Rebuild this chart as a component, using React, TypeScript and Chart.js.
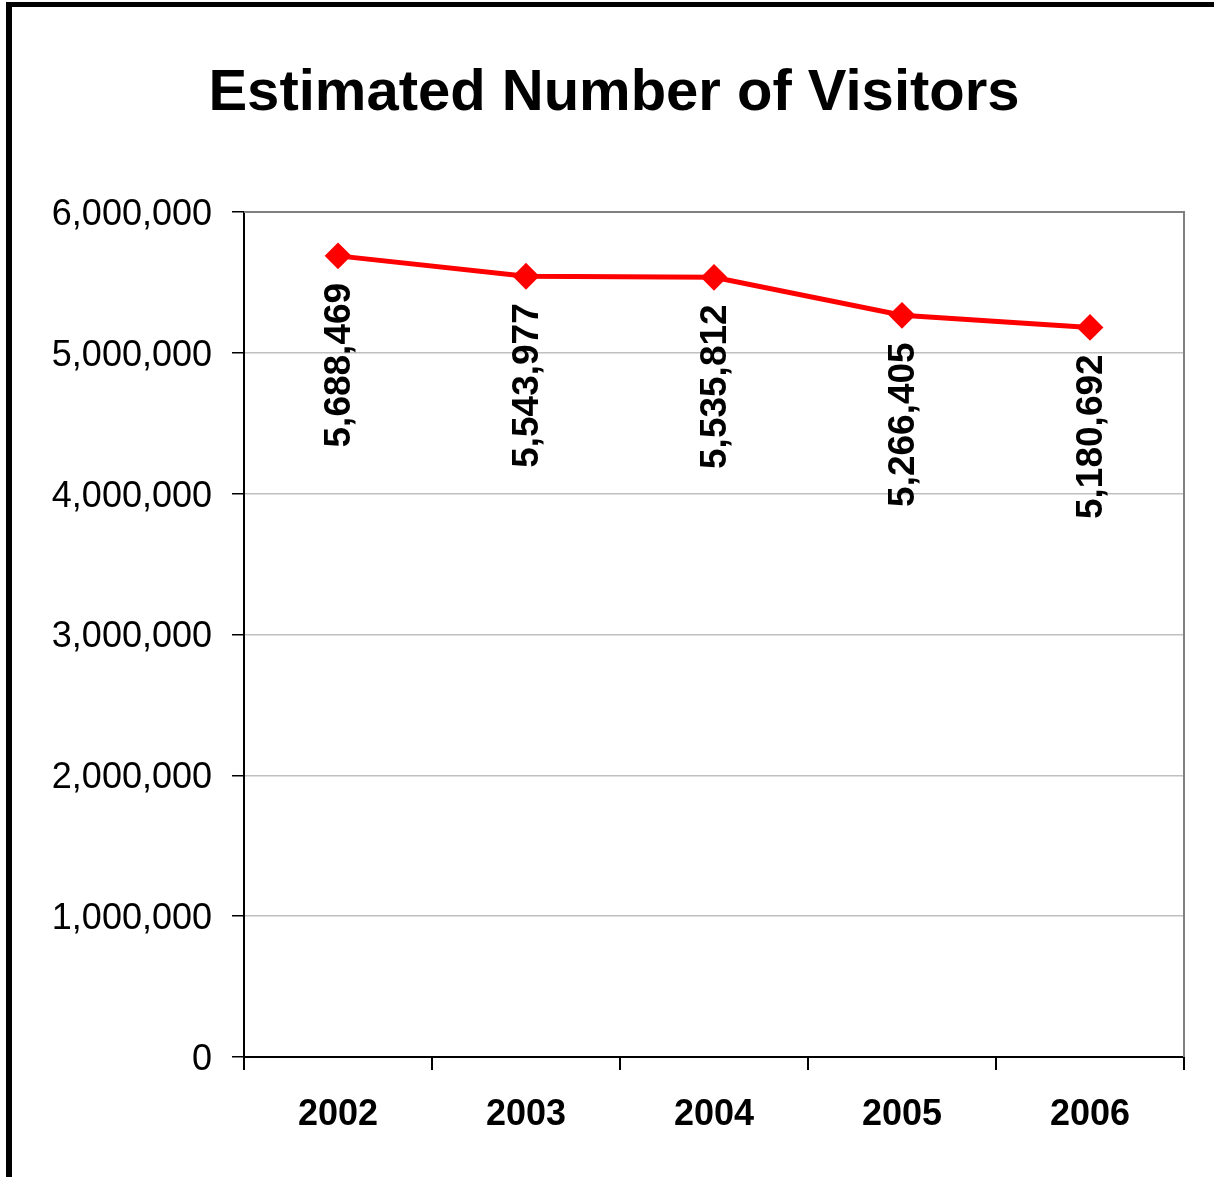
import React, { useEffect, useRef } from "react";
import { Chart, registerables } from "chart.js";

Chart.register(...registerables);

const years = ["2002", "2003", "2004", "2005", "2006"];
const visitors = [5688469, 5543977, 5535812, 5266405, 5180692];
const titleText = "Estimated Number of Visitors";
const yMin = 0;
const yMax = 6000000;
const yStep = 1000000;

const FONT = "Arial, 'Liberation Sans', sans-serif";
const W = 1214;
const H = 1177;

const fmt = (v: number) => Number(v).toLocaleString("en-US");

const decorPlugin = {
  id: "decor",
  beforeDraw(chart: any) {
    const ctx = chart.ctx;
    ctx.save();
    ctx.fillStyle = "#fff";
    ctx.fillRect(0, 0, chart.width, chart.height);
    ctx.fillStyle = "#000";
    ctx.fillRect(6, 2, 6, chart.height - 2);
    ctx.fillRect(6, 2, chart.width - 6, 5);
    ctx.font = `bold 58px ${FONT}`;
    ctx.textAlign = "center";
    ctx.textBaseline = "alphabetic";
    ctx.fillText(titleText, 614, 110);
    ctx.restore();
  },
  afterDraw(chart: any) {
    const { ctx, chartArea } = chart;
    ctx.save();
    ctx.strokeStyle = "#808080";
    ctx.lineWidth = 2;
    ctx.beginPath();
    ctx.moveTo(chartArea.left, chartArea.top);
    ctx.lineTo(chartArea.right, chartArea.top);
    ctx.lineTo(chartArea.right, chartArea.bottom);
    ctx.stroke();
    ctx.restore();
  },
  afterDatasetsDraw(chart: any) {
    const ctx = chart.ctx;
    const meta = chart.getDatasetMeta(0);
    const data = chart.data.datasets[0].data as number[];
    ctx.save();
    ctx.fillStyle = "#000";
    ctx.font = `bold 37px ${FONT}`;
    ctx.textAlign = "right";
    ctx.textBaseline = "middle";
    meta.data.forEach((pt: any, i: number) => {
      ctx.save();
      ctx.translate(pt.x, pt.y + 27);
      ctx.rotate(-Math.PI / 2);
      ctx.fillText(fmt(data[i]), 0, 2);
      ctx.restore();
    });
    ctx.restore();
  },
};

export default function App() {
  const ref = useRef<HTMLCanvasElement | null>(null);
  useEffect(() => {
    if (!ref.current) return;
    const chart = new Chart(ref.current, {
      type: "line",
      data: {
        labels: years,
        datasets: [
          {
            data: visitors,
            borderColor: "#ff0000",
            backgroundColor: "#ff0000",
            borderWidth: 5,
            pointStyle: "rectRot",
            pointRadius: 12,
            pointBorderWidth: 2,
            pointBackgroundColor: "#ff0000",
            pointBorderColor: "#ff0000",
            tension: 0,
          },
        ],
      },
      options: {
        responsive: false,
        animation: false,
        layout: { padding: { left: 0, top: 212, right: 30, bottom: 0 } },
        plugins: {
          legend: { display: false },
          title: { display: false },
          tooltip: { enabled: false },
        },
        scales: {
          x: {
            offset: true,
            grid: {
              display: true,
              offset: true,
              drawOnChartArea: false,
              drawTicks: true,
              tickLength: 13,
              tickColor: "#000",
              lineWidth: 2,
            },
            border: { display: true, color: "#000", width: 2 },
            ticks: {
              color: "#000",
              font: { family: FONT, size: 36, weight: "bold" },
              padding: 23,
              maxRotation: 0,
            },
            afterFit(scale: any) {
              scale.height = 120;
            },
          },
          y: {
            min: yMin,
            max: yMax,
            grid: {
              color: (c: any) => (c.tick && c.tick.value === yMax ? "#808080" : "#c0c0c0"),
              lineWidth: 1.5,
              tickLength: 12,
              tickColor: "#000",
            },
            border: { display: true, color: "#000", width: 2 },
            ticks: {
              stepSize: yStep,
              color: "#000",
              font: { family: FONT, size: 36 },
              padding: 20,
              labelOffset: 3,
              callback: (v: any) => fmt(v),
            },
            afterFit(scale: any) {
              scale.width = 244;
            },
          },
        },
      },
      plugins: [decorPlugin],
    });
    return () => chart.destroy();
  }, []);
  return (
    <div style={{ position: "absolute", left: 0, top: 0, width: W, height: H }}>
      <canvas ref={ref} width={W} height={H} style={{ display: "block" }} />
    </div>
  );
}
